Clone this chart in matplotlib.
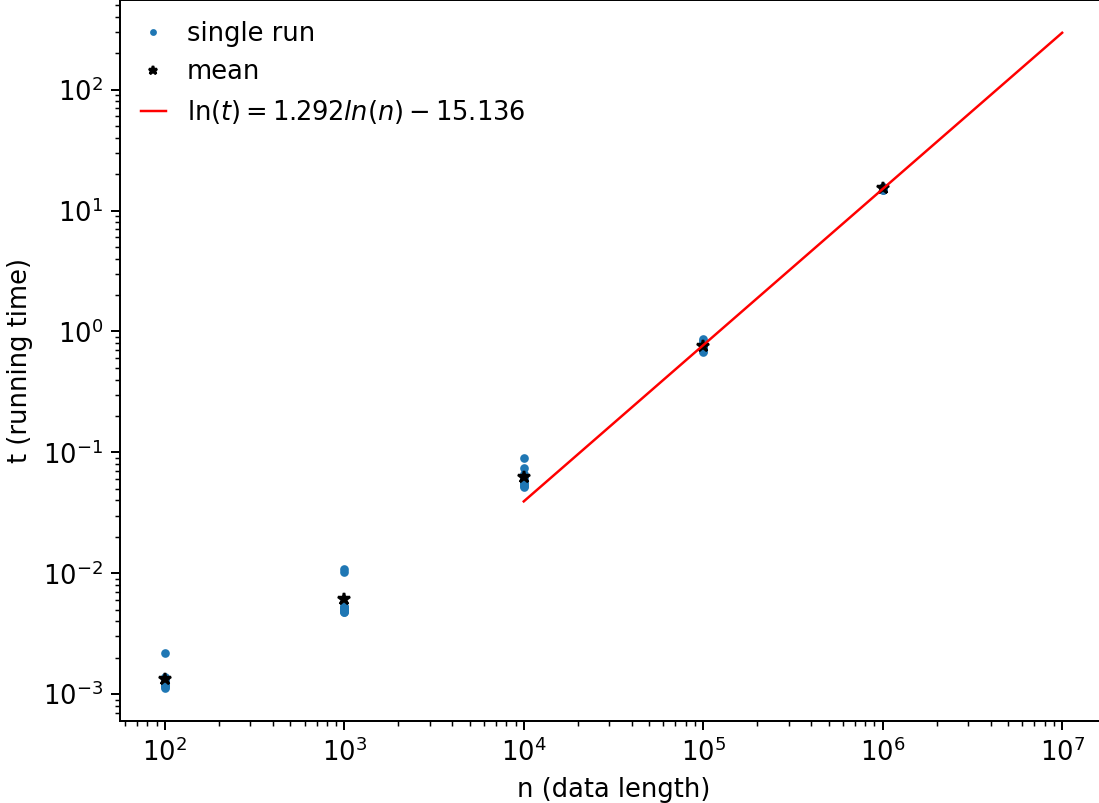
import numpy as np
import matplotlib
matplotlib.use("Agg")
import matplotlib.pyplot as plt

# data lengths and the timings of each single run (seconds)
n_values = [100, 1000, 10000, 100000, 1000000]
runs_1e2 = [2.19e-3, 1.40e-3, 1.35e-3, 1.30e-3, 1.25e-3, 1.22e-3, 1.20e-3, 1.18e-3, 1.15e-3, 1.12e-3]
runs_1e3 = [10.8e-3, 10.3e-3, 5.4e-3, 5.3e-3, 5.2e-3, 5.1e-3, 5.0e-3, 4.9e-3, 4.8e-3, 4.75e-3]
runs_1e4 = [0.090, 0.074, 0.066, 0.061, 0.058, 0.057, 0.056, 0.054, 0.053, 0.052]
runs_1e5 = [0.87, 0.84, 0.80, 0.78, 0.76, 0.75, 0.73, 0.71, 0.69, 0.68]
runs_1e6 = [15.8, 15.6, 15.5, 15.4, 15.3, 15.2, 15.1, 15.0, 14.9, 14.8]

# ln(t) = a*ln(n) + b, fitted on the large inputs
fit_a = 1.292
fit_b = -15.136
fit_range = [1e4, 1e7]

all_runs = [runs_1e2, runs_1e3, runs_1e4, runs_1e5, runs_1e6]

plt.rcParams['font.size'] = 10.4

dpi = 178
fig = plt.figure(figsize=(1099 / dpi, 803 / dpi), dpi=dpi)
ax = fig.add_axes([120 / 1099, 1 - 721 / 803, 987 / 1099, 721 / 803])

xs = []
ys = []
for n, r in zip(n_values, all_runs):
    xs += [n] * len(r)
    ys += r
ax.plot(xs, ys, '.', color='C0', markersize=5, label='single run')

means = [np.mean(r) for r in all_runs]
ax.plot(n_values, means, '*', color='k', markersize=5, label='mean')

nn = np.logspace(np.log10(fit_range[0]), np.log10(fit_range[1]), 50)
tt = np.exp(fit_a * np.log(nn) + fit_b)
ax.plot(nn, tt, '-', color='red', linewidth=1.0,
        label=r'$\ln(t) = %.3f ln(n) %s %.3f$' % (fit_a, '-' if fit_b < 0 else '+', abs(fit_b)))

ax.set_xscale('log')
ax.set_yscale('log')
ax.set_xlabel('n (data length)')
ax.set_ylabel('t (running time)')
ax.legend(loc='upper left', frameon=False, handlelength=1.0, markerscale=0.7,
          borderaxespad=0.4)

fig.savefig('out.png', dpi=dpi)
